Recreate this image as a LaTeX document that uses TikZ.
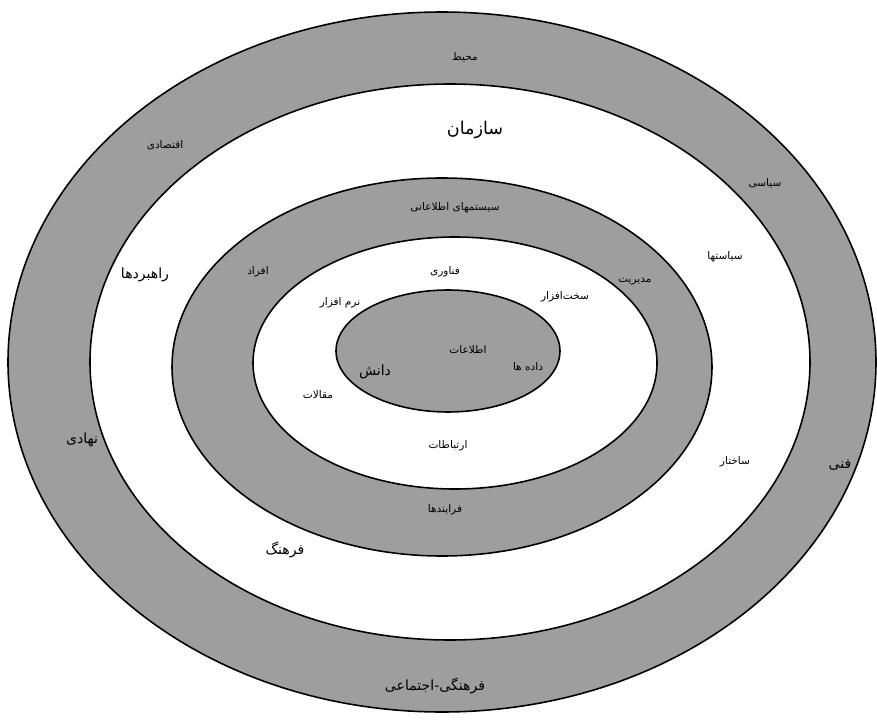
\documentclass[tikz,border=0pt]{standalone}
\usepackage{fontspec}
\usepackage{tikz}
\TeXXeTstate=1
\newfontfamily\arabicfont[Script=Arabic]{DejaVu Sans}
\newcommand{\fatext}[1]{\arabicfont\beginR #1\endR}

\begin{document}
\begin{tikzpicture}[
  x=0.02cm, y=-0.02cm,
  ring/.style={draw=black, line width=0.9pt},
  grayring/.style={ring, fill=black!38},
  whitering/.style={ring, fill=white},
  lbl/.style={inner sep=1pt, font=\fontsize{6}{7}\selectfont},
  biglbl/.style={inner sep=1pt, font=\fontsize{8}{9}\selectfont}
]
\useasboundingbox (0,0) rectangle (877,720);
% ----- rings, outside in -----
\draw[grayring]  (442,362) ellipse [x radius=434, y radius=350];
\draw[whitering] (450,362) ellipse [x radius=360, y radius=278];
\draw[grayring]  (442,367) ellipse [x radius=270, y radius=189];
\draw[whitering] (455,363) ellipse [x radius=202, y radius=126];
\draw[grayring]  (448,351) ellipse [x radius=112, y radius=61];
% ----- outer ring: environment -----
\node[lbl]    (env)  at (465,57)  {\fatext{محیط}};
\node[lbl]    (econ) at (165,145) {\fatext{اقتصادی}};
\node[lbl]    (pol)  at (765,183) {\fatext{سیاسی}};
\node[biglbl] (tech) at (840,465) {\fatext{فنی}};
\node[biglbl] (inst) at (82,440)  {\fatext{نهادی}};
\node[biglbl] (soc)  at (435,686) {\fatext{فرهنگی-اجتماعی}};
% ----- second ring: organisation -----
\node[biglbl, font=\fontsize{10}{11}\selectfont] (org) at (475,130) {\fatext{سازمان}};
\node[biglbl] (strat) at (145,275) {\fatext{راهبردها}};
\node[lbl]    (polc)  at (725,257) {\fatext{سیاستها}};
\node[lbl]    (struc) at (735,462) {\fatext{ساختار}};
\node[biglbl] (cult)  at (285,550) {\fatext{فرهنگ}};
% ----- third ring: information systems -----
\node[lbl] (is)   at (455,208) {\fatext{سیستمهای اطلاعاتی}};
\node[lbl] (ppl)  at (258,272) {\fatext{افراد}};
\node[lbl] (mgmt) at (635,282) {\fatext{مدیریت}};
\node[lbl] (proc) at (445,510) {\fatext{فرایندها}};
% ----- fourth ring: technology -----
\node[lbl] (it)   at (445,272) {\fatext{فناوری}};
\node[lbl] (sw)   at (340,303) {\fatext{نرم افزار}};
\node[lbl] (hw)   at (565,297) {\fatext{سخت‌افزار}};
\node[lbl] (art)  at (318,395) {\fatext{مقالات}};
\node[lbl] (comm) at (448,446) {\fatext{ارتباطات}};
% ----- core -----
\node[lbl]    (info) at (468,350) {\fatext{اطلاعات}};
\node[biglbl] (know) at (375,372) {\fatext{دانش}};
\node[lbl]    (data) at (528,367) {\fatext{داده ها}};
\end{tikzpicture}
\end{document}
